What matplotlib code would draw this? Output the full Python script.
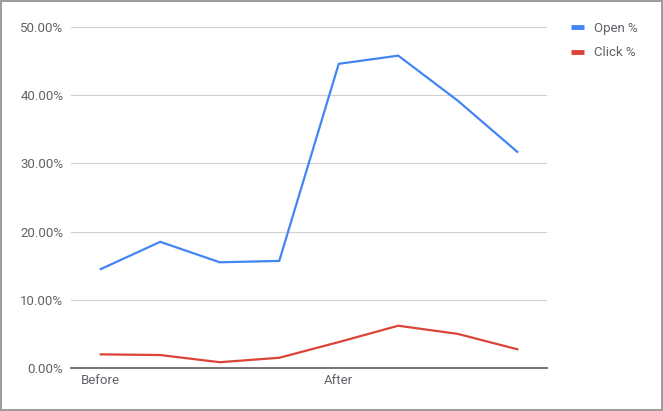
import matplotlib as mpl
mpl.use('Agg')
import matplotlib.pyplot as plt
from matplotlib.lines import Line2D
from matplotlib.ticker import FuncFormatter
import numpy as np

# values (percent)
periods = ['Before', '', '', '', 'After', '', '', '']
open_pct = [14.5, 18.5, 15.5, 15.7, 44.6, 45.8, 39.2, 31.7]
click_pct = [2.0, 1.9, 0.85, 1.5, 3.8, 6.2, 5.0, 2.75]

blue = '#4285F4'
red = '#DB4437'
text_col = '#5f6368'

plt.rcParams['font.family'] = ['Roboto', 'DejaVu Sans']

fig = plt.figure(figsize=(6.63, 4.11), dpi=100, edgecolor='#9e9e9e', linewidth=1.5)
ax = fig.add_axes([71 / 663, 1 - 368 / 411, 476 / 663, 341 / 411])

x = np.arange(len(periods))
ax.plot(x, open_pct, color=blue, lw=1.6, label='Open %', solid_joinstyle='miter')
ax.plot(x, click_pct, color=red, lw=1.6, label='Click %', solid_joinstyle='miter')

ax.set_xlim(-0.5, len(periods) - 0.5)
ax.set_ylim(0, 50)
ax.set_yticks([0, 10, 20, 30, 40, 50])
ax.yaxis.set_major_formatter(FuncFormatter(lambda v, p: f'{v:.2f}%'))
ax.set_xticks(x)
ax.set_xticklabels(periods)

ax.grid(axis='y', color='#d0d0d0', lw=0.8)
ax.set_axisbelow(True)
for s in ['top', 'right', 'left']:
    ax.spines[s].set_visible(False)
ax.spines['bottom'].set_color('#757575')
ax.spines['bottom'].set_linewidth(1.4)
ax.spines['bottom'].set_zorder(3)
ax.tick_params(axis='both', length=0, labelsize=9.5, colors=text_col)
ax.tick_params(axis='y', pad=5.5)
ax.tick_params(axis='x', pad=4)

# legend on the right
handles = [Line2D([0], [0], color=blue, lw=3.5, solid_capstyle='butt'),
           Line2D([0], [0], color=red, lw=3.5, solid_capstyle='butt')]
leg = fig.legend(handles, ['Open %', 'Click %'], loc='upper left',
                 bbox_to_anchor=(571 / 663, 1 - 22 / 411), frameon=False,
                 fontsize=9.5, handlelength=1.0, handletextpad=0.75,
                 labelspacing=0.85, borderaxespad=0, borderpad=0)
for t in leg.get_texts():
    t.set_color(text_col)

fig.savefig('out.png', dpi=100, edgecolor=fig.get_edgecolor())
